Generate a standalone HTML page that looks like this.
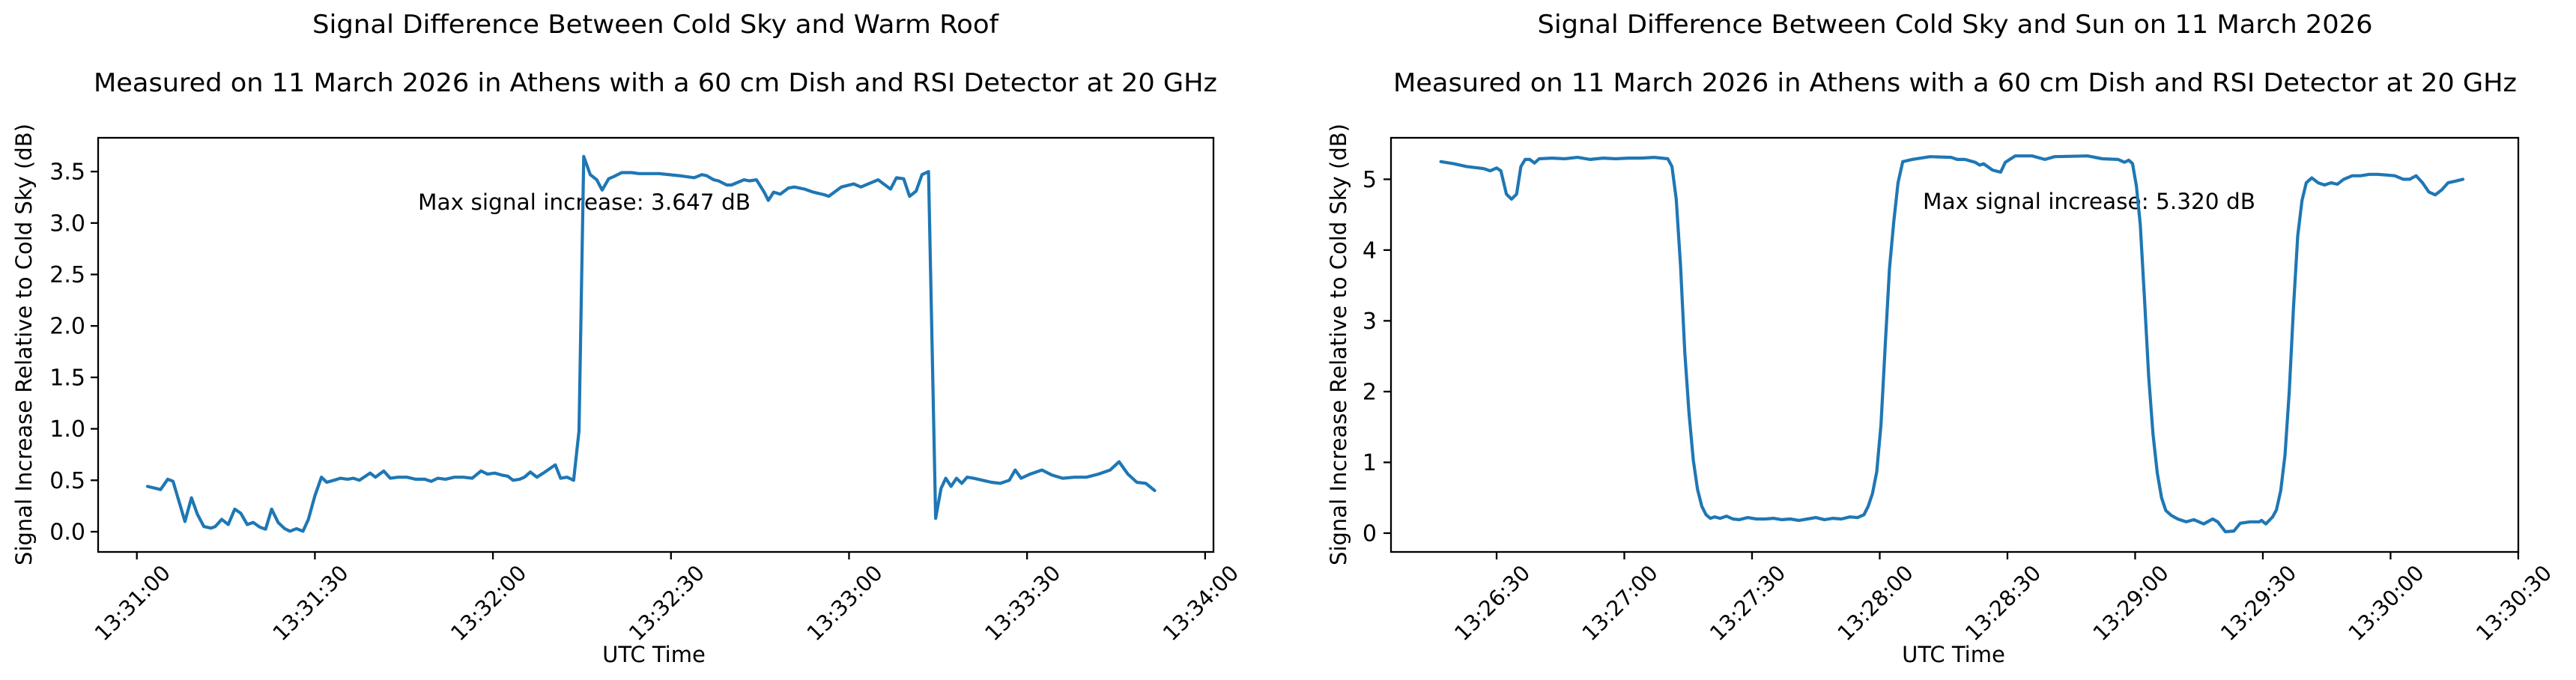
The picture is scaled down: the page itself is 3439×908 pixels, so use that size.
<!DOCTYPE html>
<html><head><meta charset="utf-8"><style>
html,body{margin:0;padding:0;background:#fff}
svg{display:block}
text{font-family:"DejaVu Sans","Liberation Sans",sans-serif;fill:#000}
</style></head><body>
<svg id="s" width="3439" height="908" viewBox="0 0 3439 908" xmlns="http://www.w3.org/2000/svg">
<rect width="3439" height="908" fill="#fff"/>
<text x="875" y="44" font-size="34" text-anchor="middle" textLength="916" lengthAdjust="spacingAndGlyphs">Signal Difference Between Cold Sky and Warm Roof</text>
<text x="875" y="122" font-size="34" text-anchor="middle" textLength="1500" lengthAdjust="spacingAndGlyphs">Measured on 11 March 2026 in Athens with a 60 cm Dish and RSI Detector at 20 GHz</text>
<text x="2610" y="44" font-size="34" text-anchor="middle" textLength="1115" lengthAdjust="spacingAndGlyphs">Signal Difference Between Cold Sky and Sun on 11 March 2026</text>
<text x="2610" y="122" font-size="34" text-anchor="middle" textLength="1500" lengthAdjust="spacingAndGlyphs">Measured on 11 March 2026 in Athens with a 60 cm Dish and RSI Detector at 20 GHz</text>
<text x="558" y="280" font-size="29" textLength="444" lengthAdjust="spacingAndGlyphs">Max signal increase: 3.647 dB</text>
<text x="2567" y="279" font-size="29" textLength="444" lengthAdjust="spacingAndGlyphs">Max signal increase: 5.320 dB</text>
<text x="873" y="884" font-size="29" text-anchor="middle">UTC Time</text>
<text x="2608" y="884" font-size="29" text-anchor="middle">UTC Time</text>
<text transform="translate(42,460) rotate(-90)" font-size="29" text-anchor="middle">Signal Increase Relative to Cold Sky (dB)</text>
<text transform="translate(1797,460) rotate(-90)" font-size="29" text-anchor="middle">Signal Increase Relative to Cold Sky (dB)</text>
<g id="dyn"></g>
<rect x="131" y="184" width="1489" height="553" fill="none" stroke="#000" stroke-width="2.3"/>
<rect x="1857" y="184" width="1505" height="553" fill="none" stroke="#000" stroke-width="2.3"/>
</svg>
<script>
var NS="http://www.w3.org/2000/svg",g=document.getElementById("dyn");
function el(t,a,txt){var e=document.createElementNS(NS,t);for(var k in a)e.setAttribute(k,a[k]);if(txt)e.textContent=txt;g.appendChild(e);return e;}
var LX=function(t){return 182.7+t*7.923},LY=function(v){return 710-v*137.4};
for(var i=0;i<=7;i++){var v=i*0.5,y=LY(v);el("line",{x1:121,x2:131,y1:y,y2:y,stroke:"#000","stroke-width":2.3});
el("text",{x:114,y:y+10.5,"font-size":30,"text-anchor":"end"},v.toFixed(1));}
var lt=["13:31:00","13:31:30","13:32:00","13:32:30","13:33:00","13:33:30","13:34:00"];
for(var i=0;i<lt.length;i++){var x=LX(i*30);el("line",{x1:x,x2:x,y1:737,y2:747,stroke:"#000","stroke-width":2.3});
el("text",{x:0,y:0,"font-size":28.5,"text-anchor":"middle",transform:"translate("+(x-6)+",805) rotate(-45) translate(0,10)"},lt[i]);}
var RX=function(t){return 1998+t*5.683},RY=function(v){return 711.9-v*94.5};
for(var i=0;i<=5;i++){var y=RY(i);el("line",{x1:1847,x2:1857,y1:y,y2:y,stroke:"#000","stroke-width":2.3});
el("text",{x:1838,y:y+10.5,"font-size":30,"text-anchor":"end"},""+i);}
var rt=["13:26:30","13:27:00","13:27:30","13:28:00","13:28:30","13:29:00","13:29:30","13:30:00","13:30:30"];
for(var i=0;i<rt.length;i++){var x=RX(i*30);el("line",{x1:x,x2:x,y1:737,y2:747,stroke:"#000","stroke-width":2.3});
el("text",{x:0,y:0,"font-size":28.5,"text-anchor":"middle",transform:"translate("+(x-6)+",805) rotate(-45) translate(0,10)"},rt[i]);}
var L=[[1.8,.44],[4,.41],[5.2,.51],[6.1,.49],[8.1,.1],[9.2,.33],[10.2,.17],[11.3,.05],[12.5,.035],[13.2,.05],[14.3,.12],[15.4,.07],[16.5,.22],[17.5,.18],[18.6,.07],[19.6,.09],[20.7,.045],[21.7,.025],[22.7,.22],[23.8,.09],[24.9,.03],[25.8,.005],[26.9,.03],[28,.005],[28.9,.12],[30,.35],[31.1,.53],[32,.48],[33.2,.5],[34.3,.52],[35.5,.51],[36.5,.52],[37.5,.5],[39.3,.57],[40.2,.53],[41.6,.59],[42.7,.52],[44,.53],[45.5,.53],[47,.51],[48.5,.51],[49.6,.49],[50.7,.52],[52,.51],[53.5,.53],[55,.53],[56.5,.52],[58,.59],[59.1,.56],[60.3,.57],[61.5,.55],[62.5,.54],[63.4,.5],[64.5,.51],[65.3,.53],[66.3,.58],[67.4,.53],[68.5,.57],[70.5,.65],[71.4,.52],[72.5,.53],[73.6,.5],[74.5,.98],[75.3,3.647],[76.4,3.47],[77.5,3.42],[78.4,3.32],[79.5,3.43],[80.3,3.45],[81.7,3.49],[83.4,3.49],[84.6,3.48],[88,3.48],[91.4,3.46],[93.9,3.44],[95.2,3.47],[96,3.46],[97.2,3.42],[98,3.41],[99.4,3.37],[100.2,3.37],[102.3,3.42],[103.2,3.41],[104.4,3.42],[105.7,3.3],[106.4,3.22],[107.3,3.3],[108.4,3.28],[109.8,3.34],[110.8,3.35],[112.5,3.33],[114,3.3],[115.8,3.275],[116.6,3.26],[118.7,3.35],[120.8,3.38],[122,3.35],[124.9,3.42],[127,3.33],[128,3.44],[129.2,3.43],[130.2,3.26],[131.3,3.31],[132.3,3.47],[133.4,3.5],[134.6,.13],[135.5,.42],[136.3,.52],[137.2,.44],[138.1,.52],[139,.47],[139.9,.53],[141,.52],[142.5,.5],[144,.48],[145.5,.47],[147,.5],[148,.6],[149,.52],[150.5,.56],[152.5,.6],[154.2,.55],[156,.52],[158,.53],[160,.53],[162,.56],[164,.6],[165.5,.68],[167,.56],[168.5,.48],[170,.47],[171.5,.4]];
var R=[[-13.1,5.25],[-10.1,5.22],[-7,5.18],[-3,5.15],[-1.5,5.12],[0,5.16],[1,5.12],[2.3,4.79],[3.5,4.72],[4.7,4.79],[5.7,5.18],[6.7,5.28],[7.8,5.28],[8.9,5.23],[10,5.29],[13,5.3],[16,5.29],[19,5.31],[22,5.28],[25,5.3],[28,5.29],[31,5.3],[34,5.3],[37,5.31],[40.2,5.29],[41.2,5.18],[42.2,4.72],[43.2,3.79],[44.2,2.56],[45.2,1.69],[46.2,1.03],[47.2,.62],[48.2,.38],[49.2,.26],[50.2,.21],[51.2,.23],[52.5,.21],[54,.24],[55.5,.2],[57,.19],[59,.22],[61,.2],[63,.2],[65,.21],[67,.19],[69,.2],[71,.18],[73,.2],[75,.22],[77,.19],[79,.21],[81,.2],[83,.23],[84.8,.22],[86.3,.26],[87.3,.38],[88.3,.56],[89.3,.87],[90.3,1.54],[91.3,2.67],[92.3,3.74],[93.3,4.4],[94.3,4.95],[95.4,5.25],[97.6,5.28],[101.8,5.32],[106.8,5.31],[108.2,5.28],[110,5.28],[112.4,5.24],[113.5,5.2],[114.4,5.22],[116.5,5.13],[118.4,5.1],[119.5,5.24],[121.8,5.33],[125.8,5.33],[128.8,5.28],[131.1,5.32],[138.8,5.33],[142.3,5.29],[146,5.28],[147.5,5.24],[148.5,5.27],[149.4,5.22],[150.3,4.9],[151.2,4.36],[152.2,3.3],[153.2,2.2],[154.2,1.4],[155.2,.85],[156.2,.5],[157.2,.32],[158.5,.25],[160,.2],[162,.16],[163.8,.19],[166.1,.13],[168.2,.2],[169.4,.16],[171.2,.02],[173.2,.03],[174.7,.14],[177,.16],[179.2,.16],[179.7,.18],[180.7,.13],[182.3,.23],[183.2,.33],[184.2,.6],[185.2,1.1],[186.2,2],[187.2,3.2],[188.2,4.2],[189.2,4.7],[190.2,4.95],[191.5,5.02],[193,4.95],[194.5,4.92],[196,4.95],[197.5,4.93],[199,5],[201,5.05],[203,5.05],[205,5.07],[207,5.07],[209,5.06],[211,5.05],[213,5],[214.5,5],[216,5.05],[217.5,4.95],[219,4.82],[220.5,4.78],[222,4.85],[223.5,4.95],[225,4.97],[227,5]];
function path(d,fx,fy){return d.map(function(p,i){return (i?"L":"M")+fx(p[0]).toFixed(1)+" "+fy(p[1]).toFixed(1)}).join(" ");}
el("path",{d:path(L,LX,LY),fill:"none",stroke:"#1f77b4","stroke-width":4.2,"stroke-linejoin":"round","stroke-linecap":"round"});
el("path",{d:path(R,RX,RY),fill:"none",stroke:"#1f77b4","stroke-width":4.2,"stroke-linejoin":"round","stroke-linecap":"round"});
</script>
</body></html>
